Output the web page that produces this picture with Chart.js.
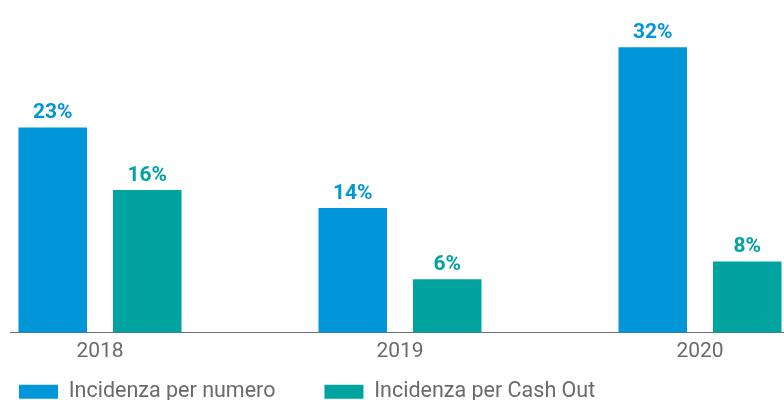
<!DOCTYPE html>
<html>
<head>
<meta charset="utf-8">
<script src="https://cdn.jsdelivr.net/npm/chart.js@4/dist/chart.umd.min.js"></script>
<style>
  html, body { margin: 0; padding: 0; background: #fff; }
  #wrap { width: 784px; height: 400px; }
</style>
</head>
<body>
<div id="wrap"><canvas id="incChart" width="784" height="400"></canvas></div>
<script>
// Data
var years = ['2018', '2019', '2020'];
var perNumero = [23, 14, 32];   // Incidenza per numero (%)
var perCashOut = [16, 6, 8];    // Incidenza per Cash Out (%)
var seriesNames = ['Incidenza per numero', 'Incidenza per Cash Out'];

var blue = '#0096d8';
var teal = '#00a39f';

// Put the % value on top of every bar
var valueLabels = {
    id: 'valueLabels',
    afterDatasetsDraw: function (chart) {
        var ctx = chart.ctx;
        ctx.save();
        ctx.font = 'bold 21px Roboto';
        ctx.textAlign = 'center';
        ctx.textBaseline = 'bottom';
        chart.data.datasets.forEach(function (ds, i) {
            var meta = chart.getDatasetMeta(i);
            meta.data.forEach(function (bar, j) {
                ctx.fillStyle = ds.backgroundColor;
                ctx.fillText(ds.data[j].y + '%', bar.x, bar.y - 4);
            });
        });
        ctx.restore();
    }
};

// The wide legend padding also pads the top, so let the legend box
// start higher up (it is clipped to its own box)
var legendNudge = {
    id: 'legendNudge',
    afterLayout: function (chart) {
        chart.legend.top -= 38;
        chart.legend.bottom = chart.height;
        chart.legend.height = chart.legend.bottom - chart.legend.top;
    }
};

function toPoints(values) {
    return values.map(function (v, i) { return { x: i, y: v }; });
}

var ctx = document.getElementById('incChart').getContext('2d');
var incChart = new Chart(ctx, {
    type: 'bar',
    data: {
        datasets: [
            { label: seriesNames[0], data: toPoints(perNumero), backgroundColor: blue },
            { label: seriesNames[1], data: toPoints(perCashOut), backgroundColor: teal }
        ]
    },
    options: {
        responsive: false,
        animation: false,
        categoryPercentage: 0.63,
        barPercentage: 0.725,
        layout: { padding: { left: -30, right: 0, top: 0, bottom: 0 } },
        scales: {
            x: {
                type: 'linear',
                min: -0.3,
                max: 2.28,
                offset: false,
                afterBuildTicks: function (scale) {
                    scale.ticks = years.map(function (y, i) { return { value: i }; });
                },
                grid: { display: false, drawTicks: false },
                border: { display: true, color: '#6e6e6e', width: 1 },
                ticks: {
                    padding: 6,
                    color: '#6a6a6a',
                    font: { family: 'Roboto', size: 21 },
                    callback: function (value) { return years[value]; }
                }
            },
            y: {
                min: 0,
                max: 37.3,
                grid: { display: false },
                border: { display: false },
                ticks: { display: false },
                afterFit: function (scale) { scale.width = 40; }
            }
        },
        plugins: {
            legend: {
                position: 'bottom',
                align: 'start',
                maxHeight: 30,
                labels: {
                    boxWidth: 39,
                    boxHeight: 14,
                    padding: 49,
                    color: '#6a6a6a',
                    font: { family: 'Roboto', size: 21.5 }
                }
            },
            tooltip: { enabled: false }
        }
    },
    plugins: [valueLabels, legendNudge]
});
</script>
</body>
</html>
